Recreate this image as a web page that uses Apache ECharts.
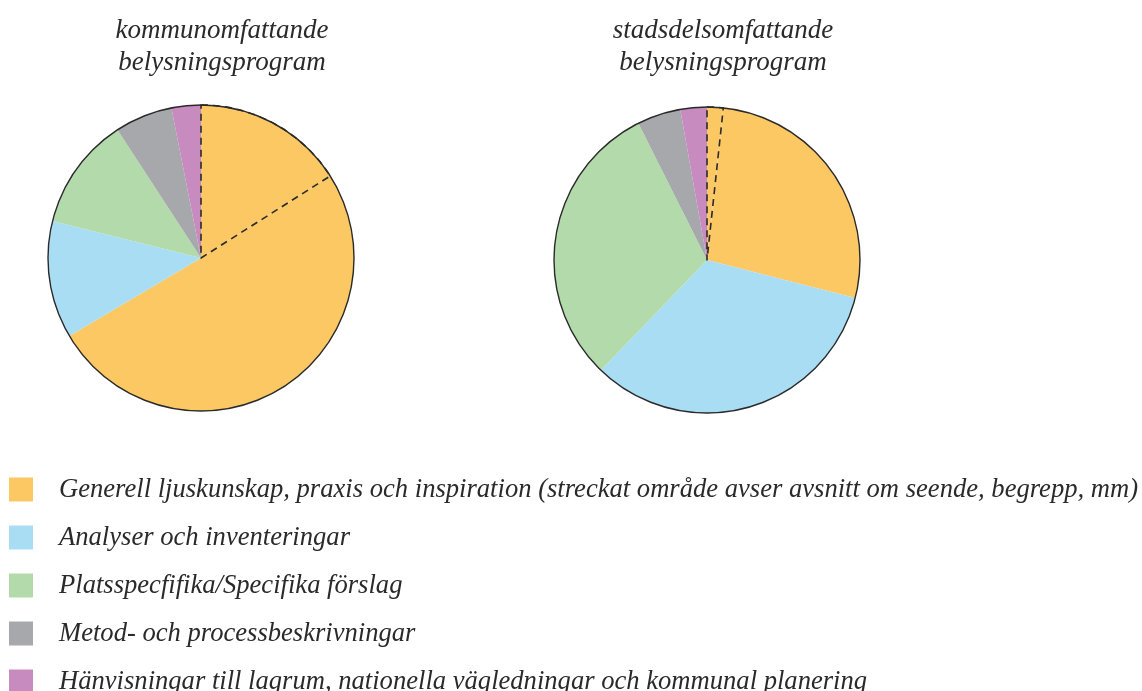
<!DOCTYPE html>
<html><head><meta charset="utf-8">
<script src="https://cdn.jsdelivr.net/npm/echarts@6/dist/echarts.min.js"></script>
<style>html,body{margin:0;padding:0;background:#fff}#c{width:1142px;height:691px}</style>
</head><body><div id="c"></div>
<script>
var categories = [
  'Generell ljuskunskap, praxis och inspiration (streckat område avser avsnitt om seende, begrepp, mm)',
  'Analyser och inventeringar',
  'Platsspecfifika/Specifika förslag',
  'Metod- och processbeskrivningar',
  'Hänvisningar till lagrum, nationella vägledningar och kommunal planering'
];
var colors = ['#FCC864', '#A9DDF4', '#B3DAAB', '#A6A8AB', '#C78BBF'];
var titles = ['kommunomfattande\nbelysningsprogram', 'stadsdelsomfattande\nbelysningsprogram'];
// share of the yellow category that is the dashed ("streckat") part
var kommunStripe = 16.0;
var kommunValues = [50.5, 12.4, 11.9, 6.1, 3.1];
var stadsdelStripe = 1.7;
var stadsdelValues = [27.3, 33.2, 30.4, 4.6, 2.8];

var font = '"Liberation Serif", "DejaVu Serif", serif';
var ink = '#2a2a2a';

function mainData(stripe, vals) {
  var d = [{ name: 'streckat', value: stripe, itemStyle: { color: colors[0] } }];
  vals.forEach(function (v, i) { d.push({ name: categories[i], value: v, itemStyle: { color: colors[i] } }); });
  return d;
}
function dashData(stripe, vals) {
  var total = vals.reduce(function (a, b) { return a + b; }, 0);
  return [
    { name: 'd1', value: stripe, itemStyle: { color: 'rgba(0,0,0,0)', borderColor: ink, borderWidth: 1.6, borderType: [7, 5] } },
    { name: 'd2', value: total, itemStyle: { color: 'rgba(0,0,0,0)', borderWidth: 0 } }
  ];
}
var pies = [
  { center: [201, 258], stripe: kommunStripe, vals: kommunValues },
  { center: [707, 260], stripe: stadsdelStripe, vals: stadsdelValues }
];
var series = [];
var common = { type: 'pie', radius: 153, startAngle: 90, clockwise: true, silent: true,
  label: { show: false }, labelLine: { show: false }, emphasis: { disabled: true }, animation: false, avoidLabelOverlap: false };
pies.forEach(function (p, k) {
  series.push(Object.assign({}, common, { center: p.center, z: 2, itemStyle: { borderWidth: 0 }, data: mainData(p.stripe, p.vals) }));
});
pies.forEach(function (p) {
  series.push(Object.assign({}, common, { center: p.center, z: 3, data: dashData(p.stripe, p.vals) }));
});
pies.forEach(function (p) {
  series.push(Object.assign({}, common, { center: p.center, z: 4,
    data: [{ name: 'outline', value: 1, itemStyle: { color: 'rgba(0,0,0,0)', borderColor: ink, borderWidth: 1.4 } }] }));
});

var legends = categories.map(function (c, i) {
  return {
    data: [c], orient: 'vertical', left: 9, top: 476 + 48 * i, padding: 0, icon: 'rect',
    itemWidth: 24, itemHeight: 24, selectedMode: false,
    textStyle: { fontFamily: font, fontStyle: 'italic', fontSize: 26.6, lineHeight: 24, color: ink, padding: [0, 0, 0, 21] }
  };
});

var chart = echarts.init(document.getElementById('c'), null, { renderer: 'canvas' });
chart.setOption({
  backgroundColor: '#fff',
  animation: false,
  title: [
    { text: titles[0], left: 217, top: 10, textAlign: 'center',
      textStyle: { fontFamily: font, fontStyle: 'italic', fontWeight: 'normal', fontSize: 27, lineHeight: 32, color: ink } },
    { text: titles[1], left: 718, top: 10, textAlign: 'center',
      textStyle: { fontFamily: font, fontStyle: 'italic', fontWeight: 'normal', fontSize: 27, lineHeight: 32, color: ink } }
  ],
  legend: legends,
  series: series
});
</script></body></html>
